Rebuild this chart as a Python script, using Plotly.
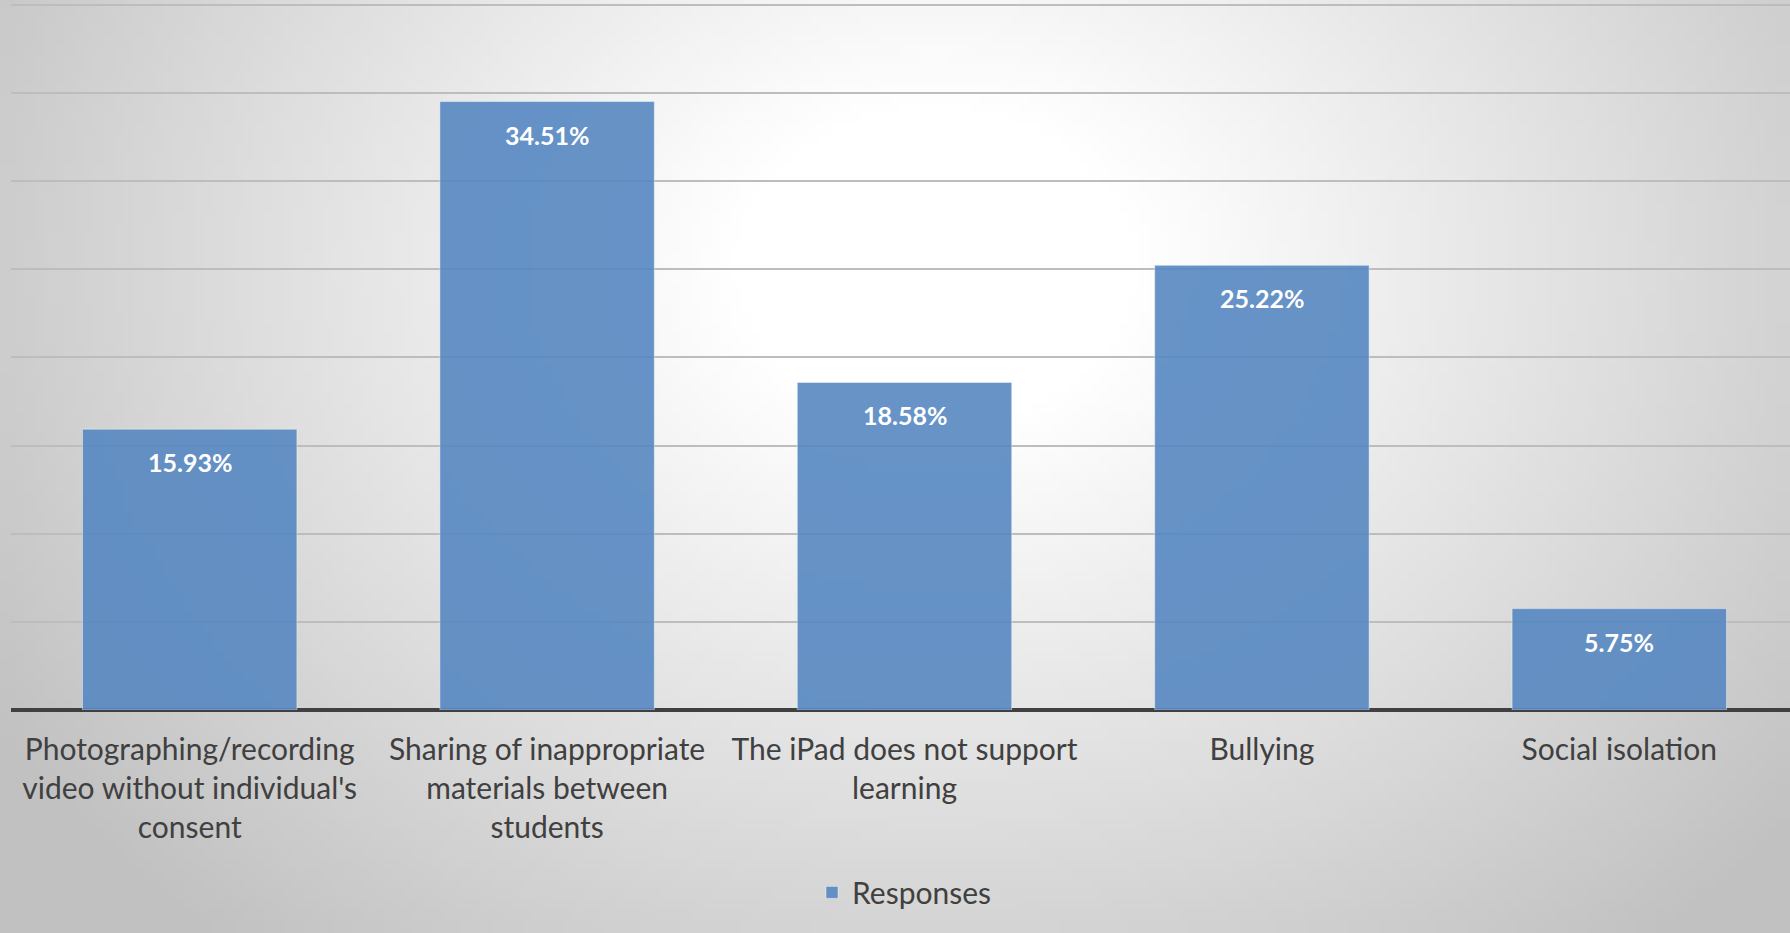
import base64
import math
import struct
import zlib

import plotly.graph_objects as go

CATEGORIES = [
    "Photographing/recording<br>video without individual's<br>consent",
    "Sharing of inappropriate<br>materials between<br>students",
    "The iPad does not support<br>learning",
    "Bullying",
    "Social isolation",
]
RESPONSES = [15.93, 34.51, 18.58, 25.22, 5.75]
SERIES_NAME = "Responses"

# the source chart runs a few px past the right edge of the window
W, H = 1798, 933
M_L, M_R, M_T, M_B = 11, 0, 3, 223


def _gradient_png(w=180, h=94):
    # radial grey→white backdrop like the Office chart style
    cx, cy = 0.52 * w, 0.28 * h
    rx, ry = 0.62 * w, 0.95 * h
    rows = b""
    for j in range(h):
        row = b"\x00"
        for i in range(w):
            d = math.hypot((i - cx) / rx, (j - cy) / ry)
            t = min(max((d - 0.18) / 0.82, 0.0), 1.0)
            v = int(round(255 - 62 * t))
            row += bytes((v, v, v))
        rows += row

    def chunk(tag, data):
        c = struct.pack(">I", len(data)) + tag + data
        return c + struct.pack(">I", zlib.crc32(tag + data) & 0xFFFFFFFF)

    png = b"\x89PNG\r\n\x1a\n"
    png += chunk(b"IHDR", struct.pack(">IIBBBBB", w, h, 8, 2, 0, 0, 0))
    png += chunk(b"IDAT", zlib.compress(rows, 9))
    png += chunk(b"IEND", b"")
    return "data:image/png;base64," + base64.b64encode(png).decode()


pw = W - M_L - M_R
ph = H - M_T - M_B

fig = go.Figure()
fig.add_trace(
    go.Bar(
        x=CATEGORIES, y=RESPONSES, name=SERIES_NAME,
        marker=dict(color="#5788c2", line=dict(color="rgba(255,255,255,0.45)", width=1)),
        opacity=0.9,
        hoverinfo="x+y",
    )
)

annotations = [
    dict(
        x=c, y=v, xref="x", yref="y", text=f"<b>{v:.2f}%</b>", showarrow=False,
        yanchor="top", yshift=-16, font=dict(family="Lato", size=25, color="white"),
    )
    for c, v in zip(CATEGORIES, RESPONSES)
]

fig.update_layout(
    width=W, height=H,
    margin=dict(l=M_L, r=M_R, t=M_T, b=M_B),
    paper_bgcolor="white",
    plot_bgcolor="rgba(0,0,0,0)",
    bargap=0.4,
    showlegend=True,
    legend=dict(
        orientation="h", x=0.5, xanchor="center", y=-0.258, yanchor="middle",
        font=dict(family="Lato", size=30, color="#404040"), bgcolor="rgba(0,0,0,0)",
    ),
    xaxis=dict(
        showgrid=False, ticks="", showline=False, zeroline=False,
        tickfont=dict(family="Lato", size=30, color="#404040"),
        ticklabelstandoff=19,
    ),
    yaxis=dict(
        # a hair above 40 so the top gridline is not dropped at the edge
        range=[0, 40.1], dtick=5, showticklabels=False, ticks="",
        showgrid=True, gridcolor="#bdbdbd", gridwidth=2,
        zeroline=True, zerolinecolor="#404040", zerolinewidth=4,
        showline=False,
    ),
    annotations=annotations,
    images=[
        dict(
            source=_gradient_png(), xref="paper", yref="paper",
            x=-M_L / pw, y=1 + M_T / ph, sizex=1790 / pw, sizey=H / ph,
            xanchor="left", yanchor="top", sizing="stretch", layer="below",
        )
    ],
)

# drop the browser's default 8px body margin so the chart fills the window
fig.write_html(
    "out.html",
    config={"displayModeBar": False},
    post_script="document.body.style.margin='0';document.body.style.overflow='hidden';",
)
